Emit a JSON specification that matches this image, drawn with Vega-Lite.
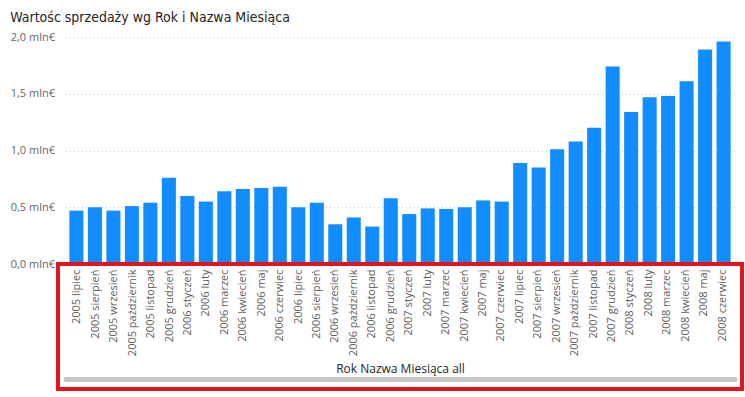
{
  "$schema": "https://vega.github.io/schema/vega-lite/v6.json",
  "background": "white",
  "padding": {"left": 10, "top": 11, "right": 5, "bottom": 5},
  "title": {
    "text": "Wartośc sprzedaży wg Rok i Nazwa Miesiąca",
    "anchor": "start",
    "fontSize": 14,
    "font": "DejaVu Sans Condensed, sans-serif",
    "fontWeight": "normal",
    "color": "#252423",
    "offset": 6
  },
  "data": {
    "values": [
      {"m": "2005 lipiec", "v": 0.47},
      {"m": "2005 sierpień", "v": 0.50},
      {"m": "2005 wrzesień", "v": 0.47},
      {"m": "2005 październik", "v": 0.51},
      {"m": "2005 listopad", "v": 0.54},
      {"m": "2005 grudzień", "v": 0.76},
      {"m": "2006 styczeń", "v": 0.60},
      {"m": "2006 luty", "v": 0.55},
      {"m": "2006 marzec", "v": 0.64},
      {"m": "2006 kwiecień", "v": 0.66},
      {"m": "2006 maj", "v": 0.67},
      {"m": "2006 czerwiec", "v": 0.68},
      {"m": "2006 lipiec", "v": 0.50},
      {"m": "2006 sierpień", "v": 0.54},
      {"m": "2006 wrzesień", "v": 0.35},
      {"m": "2006 październik", "v": 0.41},
      {"m": "2006 listopad", "v": 0.33},
      {"m": "2006 grudzień", "v": 0.58},
      {"m": "2007 styczeń", "v": 0.44},
      {"m": "2007 luty", "v": 0.49},
      {"m": "2007 marzec", "v": 0.485},
      {"m": "2007 kwiecień", "v": 0.50},
      {"m": "2007 maj", "v": 0.56},
      {"m": "2007 czerwiec", "v": 0.55},
      {"m": "2007 lipiec", "v": 0.89},
      {"m": "2007 sierpień", "v": 0.85},
      {"m": "2007 wrzesień", "v": 1.01},
      {"m": "2007 październik", "v": 1.08},
      {"m": "2007 listopad", "v": 1.20},
      {"m": "2007 grudzień", "v": 1.74},
      {"m": "2008 styczeń", "v": 1.34},
      {"m": "2008 luty", "v": 1.47},
      {"m": "2008 marzec", "v": 1.48},
      {"m": "2008 kwiecień", "v": 1.61},
      {"m": "2008 maj", "v": 1.89},
      {"m": "2008 czerwiec", "v": 1.96}
    ]
  },
  "vconcat": [
    {
      "width": 669,
      "height": 227,
      "mark": {"type": "bar", "color": "#118dff"},
      "encoding": {
        "x": {
          "field": "m", "type": "nominal", "sort": null,
          "scale": {"paddingInner": 0.24, "paddingOuter": 0.21},
          "axis": {
            "labels": false, "ticks": false, "title": null,
            "offset": 115, "domainColor": "#c6c6c6", "domainWidth": 5, "domainCap": "round"
          }
        },
        "y": {
          "field": "v", "type": "quantitative",
          "scale": {"domain": [0, 2], "nice": false},
          "axis": {
            "values": [0, 0.5, 1, 1.5, 2],
            "labelExpr": "replace(format(datum.value, '.1f'), '.', ',') + ' mln€'",
            "title": null, "domain": false, "ticks": false,
            "gridDash": [1, 3], "gridColor": "#c8c8c8",
            "labelPadding": 11, "labelFontSize": 11, "labelColor": "#666666",
            "labelFont": "Open Sans"
          }
        }
      }
    },
    {
      "width": 684,
      "height": 125,
      "view": {"stroke": "#e3141b", "strokeWidth": 4},
      "mark": {"type": "bar", "opacity": 0},
      "encoding": {
        "x": {
          "field": "m", "type": "nominal", "sort": null,
          "scale": {"paddingInner": 0.24, "paddingOuter": 0.67},
          "axis": {
            "orient": "bottom", "offset": -125, "labelAngle": -90,
            "labelPadding": 5, "ticks": false, "domain": false, "grid": false,
            "labelFont": "Open Sans", "labelFontSize": 11, "labelColor": "#605e5c",
            "title": "Rok Nazwa Miesiąca all",
            "titleFont": "Open Sans", "titleFontSize": 12, "titleFontWeight": "normal",
            "titleColor": "#252423", "titleY": 104, "titleBaseline": "middle"
          }
        }
      }
    }
  ],
  "spacing": 0,
  "bounds": "flush",
  "center": true,
  "resolve": {"scale": {"x": "independent"}},
  "config": {"view": {"stroke": null}}
}
